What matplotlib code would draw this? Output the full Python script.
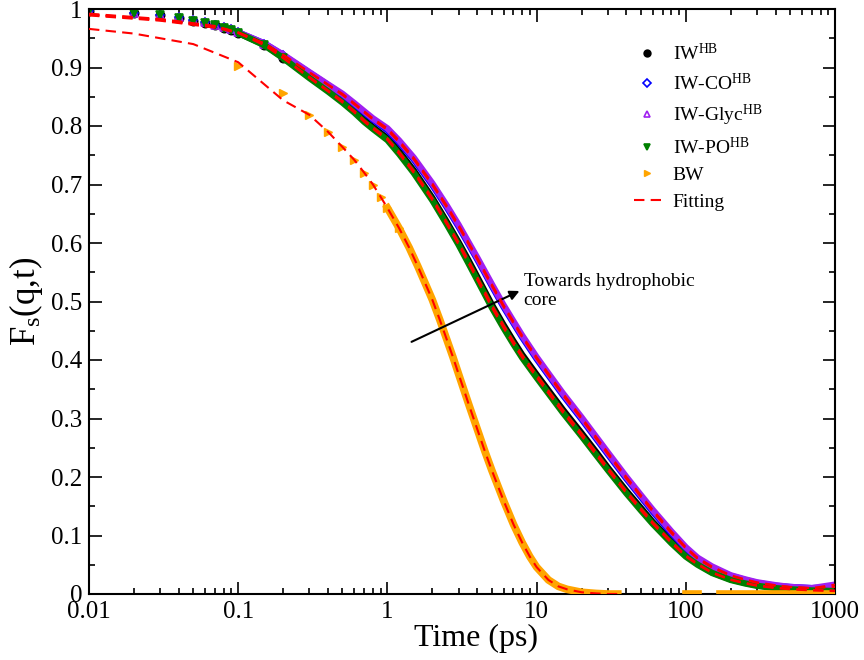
import matplotlib
matplotlib.use("Agg")
import matplotlib.pyplot as plt
import numpy as np
from matplotlib.ticker import FixedLocator, LogLocator, NullFormatter

plt.rcParams['font.family'] = ['Liberation Serif', 'DejaVu Serif']
plt.rcParams['mathtext.fontset'] = 'custom'
plt.rcParams['mathtext.rm'] = 'Liberation Serif'
plt.rcParams['mathtext.it'] = 'Liberation Serif:italic'

# time grid (ps) shared by the interfacial-water sets
t_iw = [0.01, 0.02, 0.03, 0.04, 0.05, 0.06, 0.07, 0.08, 0.09, 0.1,
        0.15, 0.2, 0.3, 0.4, 0.5, 0.6, 0.7, 0.8, 1, 1.2,
        1.5, 2, 2.5, 3, 3.5, 4, 5, 6, 7, 8,
        10, 12, 15, 20, 25, 30, 40, 50, 60, 80,
        100, 120, 150, 200, 250, 300, 400, 500, 700, 1000]

fs_iw = [0.996, 0.993, 0.989, 0.985, 0.980, 0.976, 0.972, 0.968, 0.964, 0.959,
         0.939, 0.917, 0.884, 0.861, 0.843, 0.826, 0.810, 0.798, 0.779, 0.756,
         0.724, 0.677, 0.636, 0.601, 0.570, 0.542, 0.495, 0.460, 0.432, 0.409,
         0.375, 0.348, 0.315, 0.275, 0.243, 0.216, 0.176, 0.147, 0.123, 0.090,
         0.066, 0.052, 0.037, 0.025, 0.019, 0.015, 0.011, 0.009, 0.007, 0.006]
fs_iw_co = [0.996, 0.993, 0.990, 0.986, 0.981, 0.977, 0.973, 0.969, 0.965, 0.960,
            0.941, 0.921, 0.891, 0.870, 0.853, 0.837, 0.823, 0.811, 0.793, 0.772,
            0.743, 0.699, 0.661, 0.628, 0.598, 0.572, 0.527, 0.491, 0.463, 0.439,
            0.402, 0.374, 0.340, 0.299, 0.266, 0.239, 0.197, 0.166, 0.141, 0.104,
            0.078, 0.060, 0.045, 0.031, 0.024, 0.019, 0.014, 0.012, 0.010, 0.012]
fs_iw_glyc = [0.996, 0.993, 0.990, 0.986, 0.981, 0.977, 0.973, 0.969, 0.965, 0.960,
              0.941, 0.922, 0.892, 0.871, 0.855, 0.839, 0.825, 0.813, 0.796, 0.775,
              0.746, 0.702, 0.664, 0.631, 0.601, 0.575, 0.530, 0.494, 0.466, 0.442,
              0.405, 0.377, 0.343, 0.302, 0.269, 0.242, 0.200, 0.169, 0.144, 0.107,
              0.080, 0.062, 0.047, 0.032, 0.025, 0.020, 0.015, 0.012, 0.010, 0.016]
fs_iw_po = [0.996, 0.993, 0.989, 0.985, 0.980, 0.976, 0.972, 0.968, 0.964, 0.959,
            0.938, 0.916, 0.882, 0.859, 0.840, 0.823, 0.807, 0.795, 0.776, 0.752,
            0.720, 0.673, 0.632, 0.597, 0.565, 0.537, 0.490, 0.455, 0.427, 0.404,
            0.370, 0.343, 0.310, 0.270, 0.238, 0.212, 0.172, 0.143, 0.120, 0.087,
            0.064, 0.050, 0.036, 0.024, 0.018, 0.014, 0.010, 0.008, 0.006, 0.005]

# bulk water
t_bw = [0.1, 0.2, 0.3, 0.4, 0.5, 0.6, 0.7, 0.8, 0.9, 1.0,
        1.2, 1.4, 1.6, 1.8, 2, 2.25, 2.5, 2.75, 3, 3.5,
        4, 4.5, 5, 6, 7, 8, 9, 10, 12, 14,
        16, 20, 25, 30, 35]
fs_bw = [0.903, 0.857, 0.819, 0.790, 0.764, 0.742, 0.720, 0.700, 0.679, 0.660,
         0.625, 0.592, 0.560, 0.530, 0.503, 0.468, 0.435, 0.405, 0.376, 0.325,
         0.282, 0.244, 0.212, 0.160, 0.119, 0.088, 0.064, 0.046, 0.024, 0.013,
         0.008, 0.003, 0.001, 0.0, 0.0]
t_bw_tail = [100, 110, 120, 140, 170, 200, 230, 260, 280, 350, 450, 550, 700, 850, 1000]
fs_bw_tail = [0.0, 0.0, 0.0, np.nan, 0.0, 0.0, 0.0, 0.0, 0.0, 0.0, 0.0, 0.0, 0.0, 0.0, 0.0]

# fitted curves: early-time part, then they run along the data
t_fit_early = [0.01, 0.03, 0.07]
fit_iw_early = [0.991, 0.982, 0.970]
fit_co_early = [0.990, 0.981, 0.969]
fit_glyc_early = [0.992, 0.983, 0.971]
fit_po_early = [0.989, 0.980, 0.968]
t_fit_bw_early = [0.01, 0.02, 0.05, 0.1, 0.2]
fit_bw_early = [0.966, 0.958, 0.940, 0.909, 0.844]

labels = ['IW$^{\\rm HB}$', 'IW-CO$^{\\rm HB}$', 'IW-Glyc$^{\\rm HB}$', 'IW-PO$^{\\rm HB}$', 'BW', 'Fitting']

fig = plt.figure(figsize=(8.64, 6.6), dpi=100)
ax = fig.add_axes([89 / 864, 66 / 660, 746 / 864, 585 / 660])

band = 4.6
t_iw = np.array(t_iw)
late = t_iw >= 0.1
sparse = t_iw <= 0.2   # individual symbols only where the samples are spread out

sets = [
    (fs_iw, 'black', 'o', 'black', labels[0]),
    (fs_iw_co, 'blue', 'D', 'none', labels[1]),
    (fs_iw_glyc, '#a020f0', '^', 'none', labels[2]),
    (fs_iw_po, 'green', 'v', 'green', labels[3]),
]
handles = []
for fs, col, mk, fc, lab in sets:
    fs = np.array(fs)
    ax.plot(t_iw[late], fs[late], '-', color=col, lw=band, solid_capstyle='round', zorder=2)
    ms = 4.5 if mk == 'D' else 6
    h, = ax.plot(t_iw[sparse], fs[sparse], ls='none', marker=mk, ms=ms, color=col,
                 mfc=fc, mec=col, mew=1.2, zorder=2, label=lab)
    handles.append(h)

t_bw = np.array(t_bw)
fs_bw = np.array(fs_bw)
ax.plot(t_bw[t_bw >= 1], fs_bw[t_bw >= 1], '-', color='orange', lw=5.5, zorder=3)
ax.plot(t_bw_tail, fs_bw_tail, '-', color='orange', lw=5.5, zorder=3)
early_bw = t_bw <= 1.2
h, = ax.plot(t_bw[early_bw], fs_bw[early_bw], ls='none', marker='>', ms=6, color='orange',
             zorder=3, label=labels[4])
handles.append(h)

dash = (5, 3)
for early, fs in [(fit_iw_early, fs_iw), (fit_co_early, fs_iw_co),
                  (fit_glyc_early, fs_iw_glyc), (fit_po_early, fs_iw_po)]:
    ax.plot(t_fit_early + list(t_iw[late]), early + list(np.array(fs)[late]),
            color='red', lw=1.5, dashes=dash, zorder=4)
h, = ax.plot(t_fit_bw_early + list(t_bw[2:]), fit_bw_early + list(fs_bw[2:]),
             color='red', lw=1.5, dashes=dash, zorder=4, label=labels[5])
handles.append(h)

ax.set_xscale('log')
ax.set_xlim(0.01, 1000)
ax.set_ylim(0, 1)
ax.set_xticks([0.01, 0.1, 1, 10, 100, 1000])
ax.set_xticklabels(['0.01', '0.1', '1', '10', '100', '1000'])
ax.xaxis.set_minor_locator(LogLocator(base=10, subs=np.arange(2, 10)))
ax.xaxis.set_minor_formatter(NullFormatter())
yt = np.round(np.arange(0, 1.01, 0.1), 1)
ax.set_yticks(yt)
ax.set_yticklabels(['%g' % v for v in yt])
ax.yaxis.set_minor_locator(FixedLocator(np.arange(0.05, 1, 0.1)))

ax.tick_params(which='both', direction='in', top=True, right=True, width=1.2, labelsize=18)
ax.tick_params(which='major', length=9, pad=5)
ax.tick_params(which='minor', length=4.5)
for sp in ax.spines.values():
    sp.set_linewidth(1.5)

ax.set_xlabel('Time (ps)', fontsize=23)
ax.xaxis.set_label_coords((476 - 89) / 746, -0.076, transform=ax.transAxes)
ax.xaxis.label.set_va('center')
ax.set_ylabel('F$_{\\rm s}$(q,t)', fontsize=25, labelpad=4)

ax.annotate('', xy=(7.98, 0.520), xytext=(1.396, 0.429),
            arrowprops=dict(arrowstyle='-|>', color='black', lw=1.5, mutation_scale=14))
ax.text(8.2, 0.548, 'Towards hydrophobic\ncore', fontsize=14, va='top', ha='left',
        linespacing=1.15)

leg = ax.legend(handles=handles, loc='upper right', bbox_to_anchor=(0.926, 0.972),
                frameon=False, fontsize=14, handlelength=1.4, handletextpad=0.6,
                labelspacing=0.45, markerscale=0.8)

fig.savefig('out.png', dpi=100)
